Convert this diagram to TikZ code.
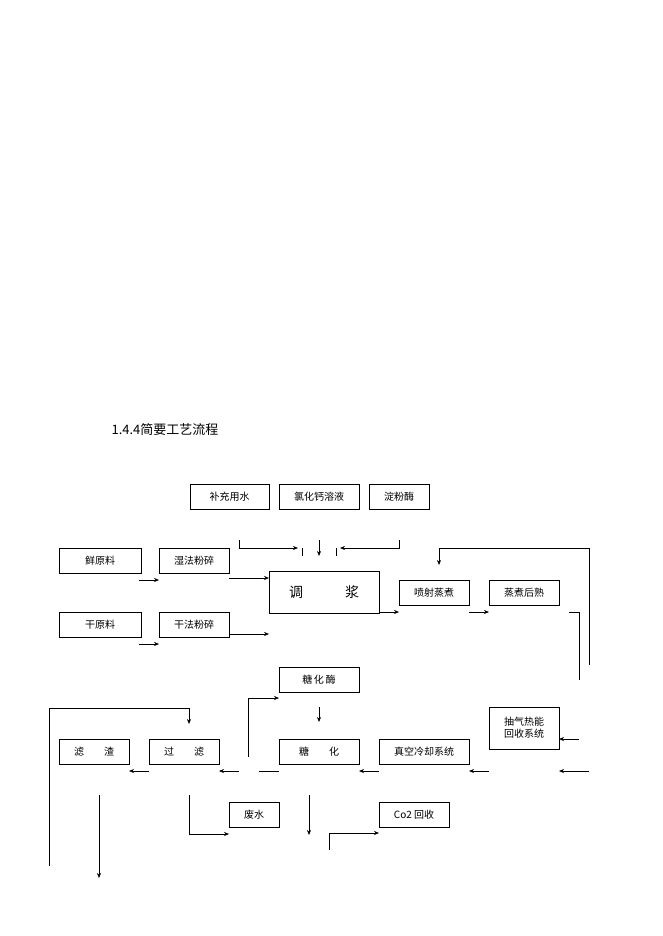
\documentclass[tikz,border=0pt]{standalone}
\usepackage{fontspec}
\setmainfont{Liberation Sans}
\newfontfamily\cjk{Noto Sans CJK SC}
\usetikzlibrary{arrows.meta}
\begin{document}
\begin{tikzpicture}[x=1pt,y=-1pt,
  bx/.style={draw,line width=0.6pt,inner sep=0,font=\cjk\fontsize{10}{12}\selectfont,align=center},
  ln/.style={line width=0.6pt},
  ar/.style={line width=0.6pt,-{Stealth[length=5pt,width=4pt]}}]
\useasboundingbox (0,0) rectangle (662,936);
\node[anchor=west,font=\cjk\fontsize{13}{15}\selectfont] (title) at (108,430) {1.4.4简要工艺流程};
\newcommand\bx[6]{\node[bx,minimum width=#4-#2,minimum height=#5-#3] (#1) at ({(#2+#4)/2},{(#3+#5)/2}) {#6};}
\bx{bc}{190}{484}{269}{509}{补充用水}
\bx{lh}{279}{484}{359}{509}{氯化钙溶液}
\bx{df}{369}{484}{429}{509}{淀粉酶}
\bx{xy}{59}{548}{141}{573}{鲜原料}
\bx{sf}{159}{548}{229}{573}{湿法粉碎}
\node[bx,minimum width=110,minimum height=42,font=\cjk\fontsize{14}{16}\selectfont] (tj) at (324,592) {调\hspace{3em}浆};
\bx{pz}{399}{580}{469}{605}{喷射蒸煮}
\bx{zh}{489}{580}{559}{605}{蒸煮后熟}
\bx{gy}{59}{612}{141}{637}{干原料}
\bx{gf}{159}{612}{229}{637}{干法粉碎}
\bx{thm}{279}{667}{359}{692}{糖\,化\,酶}
\bx{cq}{489}{707}{559}{749}{抽气热能\\回收系统}
\bx{lz}{59}{739}{129}{764}{滤\hspace{2em}渣}
\bx{gl}{149}{739}{219}{764}{过\hspace{2em}滤}
\bx{th}{279}{739}{359}{764}{糖\hspace{2em}化}
\bx{zk}{379}{739}{469}{764}{真空冷却系统}
\bx{fs}{229}{802}{279}{827}{废水}
\bx{co}{379}{802}{449}{827}{Co2 回收}
% top feeds
\coordinate (a1) at (239,540); \coordinate (a2) at (298,548);
\draw[ar] (a1) |- (a2);
\draw[ln] (302,548) -- (302,556);
\draw[ar] (319,540) -- (319,556);
\coordinate (b1) at (399,540); \coordinate (b2) at (340,548);
\draw[ar] (b1) |- (b2);
\draw[ln] (336,548) -- (336,556);
% left inputs
\draw[ar] (139,580) -- (159,580);
\draw[ar] (229,578) -- (269,578);
\draw[ar] (139,644) -- (159,644);
\draw[ar] (229,634) -- (269,634);
\draw[ar] (379,612) -- (399,612);
\draw[ar] (469,612) -- (489,612);
\draw[ln] (569,612) -- (579,612) -- (579,680);
\coordinate (r1) at (589,665);
\draw[ar] (r1) |- (439,548) -- (439,565);
\draw[ar] (579,739) -- (559,739);
% bottom row
\draw[ar] (589,771) -- (559,771);
\draw[ar] (489,771) -- (469,771);
\draw[ar] (379,771) -- (359,771);
\draw[ln] (259,771) -- (279,771);
\draw[ar] (239,771) -- (219,771);
\draw[ar] (149,771) -- (129,771);
\draw[ar] (248,757) |- (279,698);
\draw[ar] (319,707) -- (319,722);
\draw[ar] (49,866) |- (189,708) -- (189,724);
\draw[ar] (99,795) -- (99,878);
\draw[ln] (189,795) -- (189,834);
\draw[ar] (189,834) -- (229,834);
\draw[ar] (309,795) -- (309,835);
\draw[ar] (329,850) |- (379,833);
\end{tikzpicture}
\end{document}
